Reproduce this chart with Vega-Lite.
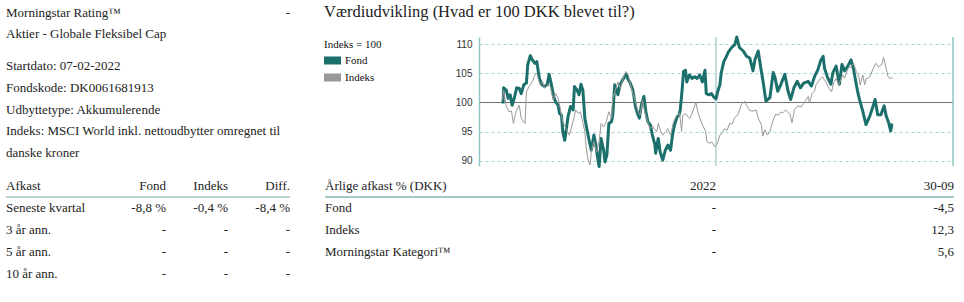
{
  "$schema": "https://vega.github.io/schema/vega-lite/v6.json",
  "background": "white",
  "padding": {"left": 5, "top": 4, "right": 5, "bottom": 0},
  "config": {
    "view": {"stroke": null},
    "font": "Liberation Serif",
    "text": {"font": "Liberation Serif", "fontSize": 13, "color": "#222222", "baseline": "middle"}
  },
  "datasets": {
    "info": [
      {"linje": "1", "gruppe": "a", "kol": "navn", "tekst": "Morningstar Rating™"},
      {"linje": "1", "gruppe": "a", "kol": "værdi", "tekst": "-"},
      {"linje": "2", "gruppe": "a", "kol": "navn", "tekst": "Aktier - Globale Fleksibel Cap"},
      {"linje": "3", "gruppe": "b", "kol": "navn", "tekst": "Startdato: 07-02-2022"},
      {"linje": "4", "gruppe": "b", "kol": "navn", "tekst": "Fondskode: DK0061681913"},
      {"linje": "5", "gruppe": "b", "kol": "navn", "tekst": "Udbyttetype: Akkumulerende"},
      {"linje": "6", "gruppe": "b", "kol": "navn", "tekst": "Indeks: MSCI World inkl. nettoudbytter omregnet til"},
      {"linje": "7", "gruppe": "b", "kol": "navn", "tekst": "danske kroner"}
    ],
    "afkast": [
      {"raekke": "Afkast", "kol": "navn", "tekst": "Afkast"},
      {"raekke": "Afkast", "kol": "Fond", "tekst": "Fond"},
      {"raekke": "Afkast", "kol": "Indeks", "tekst": "Indeks"},
      {"raekke": "Afkast", "kol": "Diff.", "tekst": "Diff."},
      {"raekke": "Seneste kvartal", "kol": "navn", "tekst": "Seneste kvartal"},
      {"raekke": "Seneste kvartal", "kol": "Fond", "tekst": "-8,8 %"},
      {"raekke": "Seneste kvartal", "kol": "Indeks", "tekst": "-0,4 %"},
      {"raekke": "Seneste kvartal", "kol": "Diff.", "tekst": "-8,4 %"},
      {"raekke": "3 år ann.", "kol": "navn", "tekst": "3 år ann."},
      {"raekke": "3 år ann.", "kol": "Fond", "tekst": "-"},
      {"raekke": "3 år ann.", "kol": "Indeks", "tekst": "-"},
      {"raekke": "3 år ann.", "kol": "Diff.", "tekst": "-"},
      {"raekke": "5 år ann.", "kol": "navn", "tekst": "5 år ann."},
      {"raekke": "5 år ann.", "kol": "Fond", "tekst": "-"},
      {"raekke": "5 år ann.", "kol": "Indeks", "tekst": "-"},
      {"raekke": "5 år ann.", "kol": "Diff.", "tekst": "-"},
      {"raekke": "10 år ann.", "kol": "navn", "tekst": "10 år ann."},
      {"raekke": "10 år ann.", "kol": "Fond", "tekst": "-"},
      {"raekke": "10 år ann.", "kol": "Indeks", "tekst": "-"},
      {"raekke": "10 år ann.", "kol": "Diff.", "tekst": "-"}
    ],
    "aarlig": [
      {"raekke": "Årlige afkast % (DKK)", "kol": "navn", "tekst": "Årlige afkast % (DKK)"},
      {"raekke": "Årlige afkast % (DKK)", "kol": "2022", "tekst": "2022"},
      {"raekke": "Årlige afkast % (DKK)", "kol": "30-09", "tekst": "30-09"},
      {"raekke": "Fond", "kol": "navn", "tekst": "Fond"},
      {"raekke": "Fond", "kol": "2022", "tekst": "-"},
      {"raekke": "Fond", "kol": "30-09", "tekst": "-4,5"},
      {"raekke": "Indeks", "kol": "navn", "tekst": "Indeks"},
      {"raekke": "Indeks", "kol": "2022", "tekst": "-"},
      {"raekke": "Indeks", "kol": "30-09", "tekst": "12,3"},
      {"raekke": "Morningstar Kategori™", "kol": "navn", "tekst": "Morningstar Kategori™"},
      {"raekke": "Morningstar Kategori™", "kol": "2022", "tekst": "-"},
      {"raekke": "Morningstar Kategori™", "kol": "30-09", "tekst": "5,6"}
    ],
    "kurser": [
      {"serie": "Fond", "dag": 37, "kurs": 99.8}, {"serie": "Fond", "dag": 38, "kurs": 102.5}, {"serie": "Fond", "dag": 42, "kurs": 102.1},
      {"serie": "Fond", "dag": 45, "kurs": 100.7}, {"serie": "Fond", "dag": 48, "kurs": 101.3}, {"serie": "Fond", "dag": 51, "kurs": 99.5},
      {"serie": "Fond", "dag": 55, "kurs": 101.0}, {"serie": "Fond", "dag": 58, "kurs": 102.5}, {"serie": "Fond", "dag": 62, "kurs": 102.4},
      {"serie": "Fond", "dag": 65, "kurs": 101.5}, {"serie": "Fond", "dag": 69, "kurs": 103.0}, {"serie": "Fond", "dag": 73, "kurs": 103.3},
      {"serie": "Fond", "dag": 75, "kurs": 106.4}, {"serie": "Fond", "dag": 79, "kurs": 108.0}, {"serie": "Fond", "dag": 82, "kurs": 107.3},
      {"serie": "Fond", "dag": 86, "kurs": 106.7}, {"serie": "Fond", "dag": 89, "kurs": 107.0}, {"serie": "Fond", "dag": 91, "kurs": 105.5},
      {"serie": "Fond", "dag": 93, "kurs": 104.1}, {"serie": "Fond", "dag": 97, "kurs": 103.0}, {"serie": "Fond", "dag": 101, "kurs": 102.7},
      {"serie": "Fond", "dag": 105, "kurs": 103.0}, {"serie": "Fond", "dag": 108, "kurs": 104.8}, {"serie": "Fond", "dag": 111, "kurs": 103.3},
      {"serie": "Fond", "dag": 115, "kurs": 101.0}, {"serie": "Fond", "dag": 118, "kurs": 100.1}, {"serie": "Fond", "dag": 122, "kurs": 99.5},
      {"serie": "Fond", "dag": 124, "kurs": 98.1}, {"serie": "Fond", "dag": 127, "kurs": 97.8}, {"serie": "Fond", "dag": 129, "kurs": 95.0},
      {"serie": "Fond", "dag": 132, "kurs": 93.5}, {"serie": "Fond", "dag": 134, "kurs": 95.0}, {"serie": "Fond", "dag": 137, "kurs": 97.5},
      {"serie": "Fond", "dag": 141, "kurs": 99.3}, {"serie": "Fond", "dag": 145, "kurs": 98.7}, {"serie": "Fond", "dag": 147, "kurs": 102.7},
      {"serie": "Fond", "dag": 151, "kurs": 102.1}, {"serie": "Fond", "dag": 154, "kurs": 101.3}, {"serie": "Fond", "dag": 157, "kurs": 103.1},
      {"serie": "Fond", "dag": 160, "kurs": 102.1}, {"serie": "Fond", "dag": 163, "kurs": 97.3}, {"serie": "Fond", "dag": 165, "kurs": 96.1},
      {"serie": "Fond", "dag": 168, "kurs": 94.4}, {"serie": "Fond", "dag": 170, "kurs": 93.3}, {"serie": "Fond", "dag": 173, "kurs": 91.8},
      {"serie": "Fond", "dag": 177, "kurs": 94.4}, {"serie": "Fond", "dag": 180, "kurs": 92.7}, {"serie": "Fond", "dag": 182, "kurs": 91.0},
      {"serie": "Fond", "dag": 185, "kurs": 89.0}, {"serie": "Fond", "dag": 188, "kurs": 93.8}, {"serie": "Fond", "dag": 192, "kurs": 91.8},
      {"serie": "Fond", "dag": 194, "kurs": 89.8}, {"serie": "Fond", "dag": 197, "kurs": 91.0}, {"serie": "Fond", "dag": 200, "kurs": 96.4},
      {"serie": "Fond", "dag": 204, "kurs": 96.7}, {"serie": "Fond", "dag": 206, "kurs": 97.8}, {"serie": "Fond", "dag": 209, "kurs": 103.0},
      {"serie": "Fond", "dag": 211, "kurs": 102.4}, {"serie": "Fond", "dag": 214, "kurs": 101.3}, {"serie": "Fond", "dag": 217, "kurs": 103.0},
      {"serie": "Fond", "dag": 221, "kurs": 103.8}, {"serie": "Fond", "dag": 224, "kurs": 104.4}, {"serie": "Fond", "dag": 227, "kurs": 104.8},
      {"serie": "Fond", "dag": 229, "kurs": 104.1}, {"serie": "Fond", "dag": 233, "kurs": 103.3}, {"serie": "Fond", "dag": 237, "kurs": 102.1},
      {"serie": "Fond", "dag": 241, "kurs": 99.3}, {"serie": "Fond", "dag": 245, "kurs": 97.8}, {"serie": "Fond", "dag": 247, "kurs": 97.3},
      {"serie": "Fond", "dag": 250, "kurs": 99.5}, {"serie": "Fond", "dag": 254, "kurs": 101.0}, {"serie": "Fond", "dag": 257, "kurs": 98.4},
      {"serie": "Fond", "dag": 260, "kurs": 96.7}, {"serie": "Fond", "dag": 264, "kurs": 96.1}, {"serie": "Fond", "dag": 267, "kurs": 94.4},
      {"serie": "Fond", "dag": 271, "kurs": 92.7}, {"serie": "Fond", "dag": 272, "kurs": 91.3}, {"serie": "Fond", "dag": 276, "kurs": 93.8},
      {"serie": "Fond", "dag": 279, "kurs": 91.5}, {"serie": "Fond", "dag": 283, "kurs": 90.1}, {"serie": "Fond", "dag": 287, "kurs": 91.8},
      {"serie": "Fond", "dag": 291, "kurs": 92.7}, {"serie": "Fond", "dag": 295, "kurs": 91.8}, {"serie": "Fond", "dag": 298, "kurs": 94.4},
      {"serie": "Fond", "dag": 301, "kurs": 96.1}, {"serie": "Fond", "dag": 305, "kurs": 97.5}, {"serie": "Fond", "dag": 308, "kurs": 97.8},
      {"serie": "Fond", "dag": 310, "kurs": 98.7}, {"serie": "Fond", "dag": 313, "kurs": 102.4}, {"serie": "Fond", "dag": 315, "kurs": 105.3},
      {"serie": "Fond", "dag": 318, "kurs": 105.5}, {"serie": "Fond", "dag": 320, "kurs": 103.5}, {"serie": "Fond", "dag": 324, "kurs": 104.7},
      {"serie": "Fond", "dag": 328, "kurs": 104.1}, {"serie": "Fond", "dag": 332, "kurs": 104.4}, {"serie": "Fond", "dag": 336, "kurs": 104.1},
      {"serie": "Fond", "dag": 340, "kurs": 104.7}, {"serie": "Fond", "dag": 344, "kurs": 103.5}, {"serie": "Fond", "dag": 348, "kurs": 105.5},
      {"serie": "Fond", "dag": 350, "kurs": 101.5}, {"serie": "Fond", "dag": 354, "kurs": 101.3}, {"serie": "Fond", "dag": 358, "kurs": 101.5},
      {"serie": "Fond", "dag": 361, "kurs": 101.0}, {"serie": "Fond", "dag": 365, "kurs": 100.6}, {"serie": "Fond", "dag": 368, "kurs": 102.0},
      {"serie": "Fond", "dag": 371, "kurs": 103.0}, {"serie": "Fond", "dag": 373, "kurs": 105.0}, {"serie": "Fond", "dag": 377, "kurs": 107.0},
      {"serie": "Fond", "dag": 380, "kurs": 107.6}, {"serie": "Fond", "dag": 384, "kurs": 108.6}, {"serie": "Fond", "dag": 389, "kurs": 109.4},
      {"serie": "Fond", "dag": 394, "kurs": 109.9}, {"serie": "Fond", "dag": 397, "kurs": 111.2}, {"serie": "Fond", "dag": 401, "kurs": 109.4},
      {"serie": "Fond", "dag": 407, "kurs": 108.8}, {"serie": "Fond", "dag": 412, "kurs": 107.9}, {"serie": "Fond", "dag": 417, "kurs": 107.6},
      {"serie": "Fond", "dag": 422, "kurs": 105.4}, {"serie": "Fond", "dag": 425, "kurs": 107.3}, {"serie": "Fond", "dag": 430, "kurs": 108.8},
      {"serie": "Fond", "dag": 434, "kurs": 105.9}, {"serie": "Fond", "dag": 437, "kurs": 103.9}, {"serie": "Fond", "dag": 442, "kurs": 100.2},
      {"serie": "Fond", "dag": 448, "kurs": 100.8}, {"serie": "Fond", "dag": 453, "kurs": 105.1}, {"serie": "Fond", "dag": 456, "kurs": 104.2},
      {"serie": "Fond", "dag": 460, "kurs": 101.9}, {"serie": "Fond", "dag": 465, "kurs": 103.1}, {"serie": "Fond", "dag": 471, "kurs": 104.8},
      {"serie": "Fond", "dag": 476, "kurs": 101.9}, {"serie": "Fond", "dag": 480, "kurs": 100.5}, {"serie": "Fond", "dag": 485, "kurs": 102.5},
      {"serie": "Fond", "dag": 490, "kurs": 103.6}, {"serie": "Fond", "dag": 495, "kurs": 102.5}, {"serie": "Fond", "dag": 500, "kurs": 103.3},
      {"serie": "Fond", "dag": 507, "kurs": 103.6}, {"serie": "Fond", "dag": 512, "kurs": 102.8}, {"serie": "Fond", "dag": 517, "kurs": 104.5},
      {"serie": "Fond", "dag": 522, "kurs": 105.6}, {"serie": "Fond", "dag": 526, "kurs": 107.1}, {"serie": "Fond", "dag": 530, "kurs": 107.9},
      {"serie": "Fond", "dag": 532, "kurs": 105.9}, {"serie": "Fond", "dag": 537, "kurs": 104.2}, {"serie": "Fond", "dag": 542, "kurs": 103.1},
      {"serie": "Fond", "dag": 545, "kurs": 105.1}, {"serie": "Fond", "dag": 550, "kurs": 106.2}, {"serie": "Fond", "dag": 555, "kurs": 103.1},
      {"serie": "Fond", "dag": 559, "kurs": 106.5}, {"serie": "Fond", "dag": 563, "kurs": 105.4}, {"serie": "Fond", "dag": 568, "kurs": 106.2},
      {"serie": "Fond", "dag": 573, "kurs": 107.3}, {"serie": "Fond", "dag": 577, "kurs": 105.6}, {"serie": "Fond", "dag": 581, "kurs": 103.1},
      {"serie": "Fond", "dag": 584, "kurs": 101.4}, {"serie": "Fond", "dag": 586, "kurs": 100.5}, {"serie": "Fond", "dag": 591, "kurs": 98.5},
      {"serie": "Fond", "dag": 596, "kurs": 96.2}, {"serie": "Fond", "dag": 602, "kurs": 97.7}, {"serie": "Fond", "dag": 607, "kurs": 99.4},
      {"serie": "Fond", "dag": 610, "kurs": 100.5}, {"serie": "Fond", "dag": 614, "kurs": 97.9}, {"serie": "Fond", "dag": 619, "kurs": 97.9},
      {"serie": "Fond", "dag": 624, "kurs": 99.4}, {"serie": "Fond", "dag": 627, "kurs": 97.7}, {"serie": "Fond", "dag": 631, "kurs": 96.5},
      {"serie": "Fond", "dag": 634, "kurs": 95.1}, {"serie": "Fond", "dag": 636, "kurs": 96.2}, {"serie": "Fond", "dag": 637, "kurs": 96.3},
      {"serie": "Indeks", "dag": 36, "kurs": 100.4}, {"serie": "Indeks", "dag": 38, "kurs": 102.1}, {"serie": "Indeks", "dag": 42, "kurs": 99.3},
      {"serie": "Indeks", "dag": 46, "kurs": 98.4}, {"serie": "Indeks", "dag": 50, "kurs": 98.5}, {"serie": "Indeks", "dag": 53, "kurs": 96.4},
      {"serie": "Indeks", "dag": 57, "kurs": 98.4}, {"serie": "Indeks", "dag": 62, "kurs": 99.5}, {"serie": "Indeks", "dag": 65, "kurs": 97.3},
      {"serie": "Indeks", "dag": 69, "kurs": 96.6}, {"serie": "Indeks", "dag": 71, "kurs": 96.4}, {"serie": "Indeks", "dag": 73, "kurs": 101.8},
      {"serie": "Indeks", "dag": 77, "kurs": 102.7}, {"serie": "Indeks", "dag": 82, "kurs": 103.5}, {"serie": "Indeks", "dag": 86, "kurs": 104.7},
      {"serie": "Indeks", "dag": 89, "kurs": 105.0}, {"serie": "Indeks", "dag": 94, "kurs": 103.0}, {"serie": "Indeks", "dag": 98, "kurs": 103.5},
      {"serie": "Indeks", "dag": 101, "kurs": 102.4}, {"serie": "Indeks", "dag": 106, "kurs": 103.0}, {"serie": "Indeks", "dag": 110, "kurs": 102.7},
      {"serie": "Indeks", "dag": 114, "kurs": 100.4}, {"serie": "Indeks", "dag": 118, "kurs": 101.5}, {"serie": "Indeks", "dag": 122, "kurs": 100.7},
      {"serie": "Indeks", "dag": 125, "kurs": 99.0}, {"serie": "Indeks", "dag": 129, "kurs": 96.7}, {"serie": "Indeks", "dag": 134, "kurs": 95.5},
      {"serie": "Indeks", "dag": 139, "kurs": 94.4}, {"serie": "Indeks", "dag": 142, "kurs": 95.5}, {"serie": "Indeks", "dag": 146, "kurs": 97.3},
      {"serie": "Indeks", "dag": 149, "kurs": 98.7}, {"serie": "Indeks", "dag": 153, "kurs": 98.1}, {"serie": "Indeks", "dag": 156, "kurs": 98.4},
      {"serie": "Indeks", "dag": 159, "kurs": 97.0}, {"serie": "Indeks", "dag": 163, "kurs": 95.0}, {"serie": "Indeks", "dag": 165, "kurs": 92.4},
      {"serie": "Indeks", "dag": 168, "kurs": 90.1}, {"serie": "Indeks", "dag": 171, "kurs": 89.3}, {"serie": "Indeks", "dag": 173, "kurs": 91.5},
      {"serie": "Indeks", "dag": 177, "kurs": 93.3}, {"serie": "Indeks", "dag": 181, "kurs": 91.5}, {"serie": "Indeks", "dag": 185, "kurs": 93.3},
      {"serie": "Indeks", "dag": 188, "kurs": 96.4}, {"serie": "Indeks", "dag": 192, "kurs": 95.8}, {"serie": "Indeks", "dag": 196, "kurs": 96.7},
      {"serie": "Indeks", "dag": 200, "kurs": 98.4}, {"serie": "Indeks", "dag": 204, "kurs": 97.3}, {"serie": "Indeks", "dag": 206, "kurs": 100.7},
      {"serie": "Indeks", "dag": 211, "kurs": 102.4}, {"serie": "Indeks", "dag": 214, "kurs": 103.5}, {"serie": "Indeks", "dag": 218, "kurs": 102.4},
      {"serie": "Indeks", "dag": 222, "kurs": 104.1}, {"serie": "Indeks", "dag": 226, "kurs": 105.3}, {"serie": "Indeks", "dag": 230, "kurs": 104.7},
      {"serie": "Indeks", "dag": 233, "kurs": 103.3}, {"serie": "Indeks", "dag": 237, "kurs": 101.5}, {"serie": "Indeks", "dag": 241, "kurs": 100.1},
      {"serie": "Indeks", "dag": 245, "kurs": 98.4}, {"serie": "Indeks", "dag": 248, "kurs": 97.8}, {"serie": "Indeks", "dag": 252, "kurs": 100.4},
      {"serie": "Indeks", "dag": 255, "kurs": 98.4}, {"serie": "Indeks", "dag": 259, "kurs": 97.0}, {"serie": "Indeks", "dag": 263, "kurs": 95.5},
      {"serie": "Indeks", "dag": 267, "kurs": 96.0}, {"serie": "Indeks", "dag": 271, "kurs": 95.3}, {"serie": "Indeks", "dag": 274, "kurs": 95.0},
      {"serie": "Indeks", "dag": 276, "kurs": 96.4}, {"serie": "Indeks", "dag": 279, "kurs": 95.3}, {"serie": "Indeks", "dag": 283, "kurs": 94.4},
      {"serie": "Indeks", "dag": 288, "kurs": 95.0}, {"serie": "Indeks", "dag": 291, "kurs": 95.5}, {"serie": "Indeks", "dag": 295, "kurs": 94.4},
      {"serie": "Indeks", "dag": 299, "kurs": 96.4}, {"serie": "Indeks", "dag": 303, "kurs": 97.5}, {"serie": "Indeks", "dag": 307, "kurs": 97.9},
      {"serie": "Indeks", "dag": 309, "kurs": 98.2}, {"serie": "Indeks", "dag": 312, "kurs": 95.0}, {"serie": "Indeks", "dag": 314, "kurs": 97.8},
      {"serie": "Indeks", "dag": 318, "kurs": 98.1}, {"serie": "Indeks", "dag": 322, "kurs": 97.5}, {"serie": "Indeks", "dag": 325, "kurs": 97.3},
      {"serie": "Indeks", "dag": 330, "kurs": 98.7}, {"serie": "Indeks", "dag": 334, "kurs": 100.0}, {"serie": "Indeks", "dag": 337, "kurs": 98.4},
      {"serie": "Indeks", "dag": 341, "kurs": 97.0}, {"serie": "Indeks", "dag": 345, "kurs": 96.0}, {"serie": "Indeks", "dag": 349, "kurs": 95.0},
      {"serie": "Indeks", "dag": 351, "kurs": 93.3}, {"serie": "Indeks", "dag": 355, "kurs": 93.0}, {"serie": "Indeks", "dag": 359, "kurs": 93.2},
      {"serie": "Indeks", "dag": 363, "kurs": 92.4}, {"serie": "Indeks", "dag": 367, "kurs": 92.9}, {"serie": "Indeks", "dag": 371, "kurs": 94.4},
      {"serie": "Indeks", "dag": 375, "kurs": 94.8}, {"serie": "Indeks", "dag": 378, "kurs": 95.5}, {"serie": "Indeks", "dag": 382, "kurs": 95.2},
      {"serie": "Indeks", "dag": 386, "kurs": 96.4}, {"serie": "Indeks", "dag": 390, "kurs": 96.3}, {"serie": "Indeks", "dag": 394, "kurs": 97.4},
      {"serie": "Indeks", "dag": 399, "kurs": 97.9}, {"serie": "Indeks", "dag": 404, "kurs": 99.6}, {"serie": "Indeks", "dag": 409, "kurs": 100.2},
      {"serie": "Indeks", "dag": 412, "kurs": 99.5}, {"serie": "Indeks", "dag": 417, "kurs": 98.6}, {"serie": "Indeks", "dag": 422, "kurs": 98.5},
      {"serie": "Indeks", "dag": 427, "kurs": 98.7}, {"serie": "Indeks", "dag": 430, "kurs": 97.3}, {"serie": "Indeks", "dag": 435, "kurs": 96.1},
      {"serie": "Indeks", "dag": 437, "kurs": 94.2}, {"serie": "Indeks", "dag": 440, "kurs": 95.3}, {"serie": "Indeks", "dag": 444, "kurs": 94.4},
      {"serie": "Indeks", "dag": 448, "kurs": 95.0}, {"serie": "Indeks", "dag": 453, "kurs": 96.9}, {"serie": "Indeks", "dag": 457, "kurs": 98.0},
      {"serie": "Indeks", "dag": 461, "kurs": 97.8}, {"serie": "Indeks", "dag": 464, "kurs": 98.3}, {"serie": "Indeks", "dag": 468, "kurs": 98.2},
      {"serie": "Indeks", "dag": 472, "kurs": 98.7}, {"serie": "Indeks", "dag": 476, "kurs": 98.3}, {"serie": "Indeks", "dag": 479, "kurs": 98.0},
      {"serie": "Indeks", "dag": 482, "kurs": 96.5}, {"serie": "Indeks", "dag": 486, "kurs": 98.8}, {"serie": "Indeks", "dag": 491, "kurs": 99.4},
      {"serie": "Indeks", "dag": 496, "kurs": 99.2}, {"serie": "Indeks", "dag": 502, "kurs": 100.1}, {"serie": "Indeks", "dag": 507, "kurs": 101.0},
      {"serie": "Indeks", "dag": 509, "kurs": 99.9}, {"serie": "Indeks", "dag": 513, "kurs": 101.5}, {"serie": "Indeks", "dag": 517, "kurs": 102.0},
      {"serie": "Indeks", "dag": 519, "kurs": 103.0}, {"serie": "Indeks", "dag": 524, "kurs": 103.8}, {"serie": "Indeks", "dag": 529, "kurs": 104.4},
      {"serie": "Indeks", "dag": 534, "kurs": 103.5}, {"serie": "Indeks", "dag": 539, "kurs": 102.4}, {"serie": "Indeks", "dag": 543, "kurs": 101.8},
      {"serie": "Indeks", "dag": 546, "kurs": 103.3}, {"serie": "Indeks", "dag": 550, "kurs": 104.1}, {"serie": "Indeks", "dag": 554, "kurs": 103.0},
      {"serie": "Indeks", "dag": 560, "kurs": 104.7}, {"serie": "Indeks", "dag": 563, "kurs": 104.1}, {"serie": "Indeks", "dag": 568, "kurs": 105.8},
      {"serie": "Indeks", "dag": 573, "kurs": 106.1}, {"serie": "Indeks", "dag": 577, "kurs": 106.7}, {"serie": "Indeks", "dag": 581, "kurs": 105.3},
      {"serie": "Indeks", "dag": 585, "kurs": 104.4}, {"serie": "Indeks", "dag": 587, "kurs": 103.0}, {"serie": "Indeks", "dag": 591, "kurs": 104.7},
      {"serie": "Indeks", "dag": 594, "kurs": 103.0}, {"serie": "Indeks", "dag": 596, "kurs": 104.0}, {"serie": "Indeks", "dag": 602, "kurs": 104.4},
      {"serie": "Indeks", "dag": 607, "kurs": 105.8}, {"serie": "Indeks", "dag": 611, "kurs": 106.7}, {"serie": "Indeks", "dag": 615, "kurs": 106.1},
      {"serie": "Indeks", "dag": 620, "kurs": 106.4}, {"serie": "Indeks", "dag": 623, "kurs": 107.7}, {"serie": "Indeks", "dag": 627, "kurs": 105.8},
      {"serie": "Indeks", "dag": 630, "kurs": 104.4}, {"serie": "Indeks", "dag": 633, "kurs": 104.1}, {"serie": "Indeks", "dag": 635, "kurs": 104.3},
      {"serie": "Indeks", "dag": 637, "kurs": 104.1}
    ]
  },
  "columns": 2,
  "align": "none",
  "spacing": {"row": 6, "column": 33},
  "resolve": {"scale": {"color": "independent"}, "legend": {"color": "independent"}},
  "concat": [
    {
      "width": 284,
      "height": 120,
      "data": {"name": "info"},
      "encoding": {
        "y": {"field": "linje", "type": "ordinal", "scale": {"type": "band", "domain": ["1", "2", "3", "4", "5", "6", "7"], "range": [-35, 116], "paddingInner": 0, "paddingOuter": 0}, "axis": null},
        "x": {"field": "kol", "type": "nominal", "scale": {"type": "band", "domain": ["navn", "værdi"], "paddingInner": 0, "paddingOuter": 0}, "axis": null},
        "text": {"field": "tekst"}
      },
      "layer": [
        {"transform": [{"filter": "datum.kol === 'navn' && datum.gruppe === 'a'"}], "mark": {"type": "text", "align": "left"}, "encoding": {"x": {"field": "kol", "type": "nominal", "bandPosition": 0, "axis": null}}},
        {"transform": [{"filter": "datum.kol === 'navn' && datum.gruppe === 'b'"}], "mark": {"type": "text", "align": "left", "dy": 10.5}, "encoding": {"x": {"field": "kol", "type": "nominal", "bandPosition": 0, "axis": null}}},
        {"transform": [{"filter": "datum.kol === 'værdi'"}], "mark": {"type": "text", "align": "right"}, "encoding": {"x": {"field": "kol", "type": "nominal", "bandPosition": 1, "axis": null}}}
      ]
    },
    {
      "width": 474,
      "height": 129,
      "title": {"text": "Værdiudvikling (Hvad er 100 DKK blevet til?)", "anchor": "start", "frame": "bounds", "font": "Liberation Serif", "fontSize": 16.5, "fontWeight": "normal", "color": "#222222", "offset": 15},
      "layer": [
        {
          "data": {"values": [{"dag": 365}]},
          "mark": {"type": "rule", "color": "#c3dedb", "strokeWidth": 2},
          "encoding": {"x": {"field": "dag", "type": "quantitative", "scale": {"domain": [0, 730], "nice": false, "zero": false}, "axis": null}}
        },
        {
          "data": {"values": [{"dag": 730}]},
          "mark": {"type": "rule", "color": "#90c6c1", "strokeWidth": 1.5},
          "encoding": {"x": {"field": "dag", "type": "quantitative", "scale": {"domain": [0, 730], "nice": false, "zero": false}, "axis": null}}
        },
        {
          "data": {"name": "kurser"},
          "encoding": {
            "x": {"field": "dag", "type": "quantitative", "scale": {"domain": [0, 730], "nice": false, "zero": false}, "axis": null},
            "y": {
              "field": "kurs", "type": "quantitative",
              "scale": {"domain": [89.1, 111.2], "nice": false, "zero": false},
              "axis": {
                "values": [90, 95, 100, 105, 110], "title": null, "grid": true,
                "gridColor": {"condition": {"test": "datum.value === 100", "value": "#707070"}, "value": "#a9d5d0"},
                "gridDash": {"condition": {"test": "datum.value === 100", "value": []}, "value": [3, 3]},
                "gridWidth": 1, "domain": true, "domainColor": "#90c6c1", "domainWidth": 1.5, "ticks": false,
                "labelFont": "Liberation Sans", "labelFontSize": 10, "labelColor": "#333333", "labelPadding": 7
              }
            },
            "color": {
              "field": "serie", "type": "nominal",
              "scale": {"domain": ["Fond", "Indeks"], "range": ["#1c706c", "#999999"]},
              "legend": {
                "title": "Indeks = 100", "orient": "none", "legendX": -155, "legendY": 2, "padding": 0,
                "titleFont": "Liberation Serif", "titleFontSize": 11, "titleFontWeight": "normal", "titleColor": "#111111", "titlePadding": 2,
                "labelFont": "Liberation Serif", "labelFontSize": 11, "labelColor": "#111111", "labelOffset": 4,
                "symbolType": "M-1.8,0H1.8", "symbolSize": 100, "symbolStrokeWidth": 8, "symbolOffset": -1,
                "clipHeight": 17, "rowPadding": 0,
                "encode": {"symbols": {"update": {"strokeWidth": {"value": 8}, "strokeCap": {"value": "butt"}, "opacity": {"value": 1}}}}
              }
            }
          },
          "layer": [
            {"transform": [{"filter": "datum.serie === 'Fond'"}], "mark": {"type": "line", "strokeWidth": 3, "strokeJoin": "round"}},
            {"transform": [{"filter": "datum.serie === 'Indeks'"}], "mark": {"type": "line", "strokeWidth": 1}}
          ]
        }
      ]
    },
    {
      "width": 284,
      "height": 110,
      "data": {"name": "afkast"},
      "encoding": {
        "y": {"field": "raekke", "type": "ordinal", "scale": {"type": "band", "domain": ["Afkast", "Seneste kvartal", "3 år ann.", "5 år ann.", "10 år ann."], "paddingInner": 0, "paddingOuter": 0}, "axis": null}
      },
      "layer": [
        {"data": {"values": [{"raekke": "Seneste kvartal"}]}, "mark": {"type": "rule", "color": "#bcd8d5", "strokeWidth": 2}, "encoding": {"y": {"field": "raekke", "type": "ordinal", "bandPosition": 0, "axis": null}}},
        {"transform": [{"filter": "datum.kol === 'navn'"}], "mark": {"type": "text", "align": "left"},
         "encoding": {"x": {"field": "kol", "type": "nominal", "scale": {"type": "band", "domain": ["navn"], "paddingInner": 0, "paddingOuter": 0}, "bandPosition": 0, "axis": null}, "text": {"field": "tekst"}}},
        {"transform": [{"filter": "datum.kol !== 'navn'"}], "mark": {"type": "text", "align": "right"},
         "encoding": {"x": {"field": "kol", "type": "nominal", "scale": {"type": "band", "domain": ["Fond", "Indeks", "Diff."], "paddingInner": 0, "paddingOuter": 0.79, "align": 1}, "bandPosition": 1, "axis": null}, "text": {"field": "tekst"}}}
      ],
      "resolve": {"scale": {"x": "independent"}}
    },
    {
      "width": 629,
      "height": 88,
      "data": {"name": "aarlig"},
      "encoding": {
        "y": {"field": "raekke", "type": "ordinal", "scale": {"type": "band", "domain": ["Årlige afkast % (DKK)", "Fond", "Indeks", "Morningstar Kategori™"], "paddingInner": 0, "paddingOuter": 0}, "axis": null}
      },
      "layer": [
        {"data": {"values": [{"raekke": "Fond"}]}, "mark": {"type": "rule", "color": "#84b9b5", "strokeWidth": 1.5}, "encoding": {"y": {"field": "raekke", "type": "ordinal", "bandPosition": 0, "axis": null}}},
        {"transform": [{"filter": "datum.kol === 'navn'"}], "mark": {"type": "text", "align": "left"},
         "encoding": {"x": {"field": "kol", "type": "nominal", "scale": {"type": "band", "domain": ["navn"], "paddingInner": 0, "paddingOuter": 0}, "bandPosition": 0, "axis": null}, "text": {"field": "tekst"}}},
        {"transform": [{"filter": "datum.kol !== 'navn'"}], "mark": {"type": "text", "align": "right"},
         "encoding": {"x": {"field": "kol", "type": "nominal", "scale": {"type": "band", "domain": ["2022", "30-09"], "paddingInner": 0, "paddingOuter": 0.3214, "align": 1}, "bandPosition": 1, "axis": null}, "text": {"field": "tekst"}}}
      ],
      "resolve": {"scale": {"x": "independent"}}
    }
  ]
}
